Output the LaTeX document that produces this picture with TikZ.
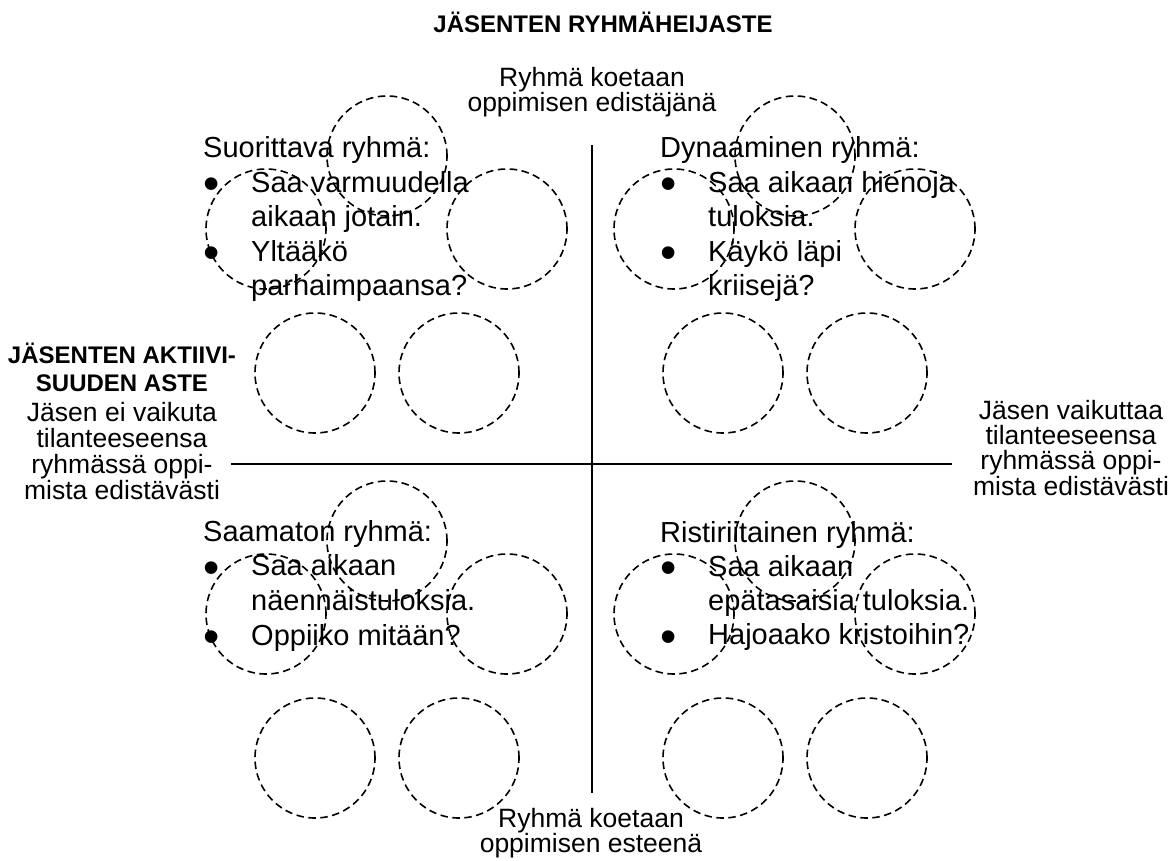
\documentclass[tikz,border=0pt]{standalone}
\usepackage{fontspec}
\setmainfont{Liberation Sans}
% bullet line and continuation line of a quadrant list
\newcommand\qbullet[1]{\makebox[48pt][l]{\hspace{0pt}\raisebox{-7.5pt}{\scalebox{1.6}{\textbullet}}}#1}
\newcommand\qcont[1]{\hspace*{48pt}#1}
\tikzset{
  ring/.style={circle, draw, dash pattern=on 7.5pt off 4.5pt, line width=1.6pt, minimum size=120pt, inner sep=0pt},
  axisline/.style={line width=2pt, draw=black},
  quadtext/.style={anchor=base west, inner sep=0pt},
  axistext/.style={anchor=base, inner sep=0pt},
}
\begin{document}
\begin{tikzpicture}[x=1pt,y=-1pt]
\useasboundingbox (0,0) rectangle (1174,861);

% axes
\coordinate (axN) at (592,145);
\coordinate (axS) at (592,793);
\coordinate (axW) at (231,464);
\coordinate (axE) at (952,464);
\draw[axisline] (axN) -- (axS);
\draw[axisline] (axW) -- (axE);

% member groups drawn as dashed rings, five per quadrant
\foreach \dx/\dy/\q in {0/0/tl, 408/0/tr, 0/385/bl, 408/385/br}{
  \node[ring] (\q-top) at (387+\dx,156+\dy) {};
  \node[ring] (\q-left) at (266+\dx,229+\dy) {};
  \node[ring] (\q-right) at (507+\dx,229+\dy) {};
  \node[ring] (\q-low1) at (315+\dx,373+\dy) {};
  \node[ring] (\q-low2) at (459+\dx,373+\dy) {};
}

% headings
\node[axistext] (title) at (603,33) {\fontsize{24}{28}\selectfont\bfseries JÄSENTEN RYHMÄHEIJASTE};
\node[axistext] (north) at (592,87) {\parbox[t]{320pt}{\centering\fontsize{26.5}{25}\selectfont Ryhmä koetaan\\oppimisen edistäjänä}};
\node[axistext] (south) at (591,827) {\parbox[t]{320pt}{\centering\fontsize{26.5}{23.5}\selectfont Ryhmä koetaan\\oppimisen esteenä}};
\node[axistext] (westhead) at (122,363) {\parbox[t]{240pt}{\centering\bfseries\fontsize{24}{28}\selectfont JÄSENTEN AKTIIVI-\\SUUDEN ASTE}};
\node[axistext] (west) at (122,421) {\parbox[t]{240pt}{\centering\fontsize{26.5}{26}\selectfont Jäsen ei vaikuta\\tilanteeseensa\\ryhmässä oppi-\\mista edistävästi}};
\node[axistext] (east) at (1071,419) {\parbox[t]{240pt}{\centering\fontsize{26.5}{25.4}\selectfont Jäsen vaikuttaa\\tilanteeseensa\\ryhmässä oppi-\\mista edistävästi}};

% quadrant descriptions
\node[quadtext] (tltext) at (203,158) {\parbox[t]{400pt}{\fontsize{29}{34.5}\selectfont
  Suorittava ryhmä:\\
  \qbullet{Saa varmuudella}\\
  \qcont{aikaan jotain.}\\
  \qbullet{Yltääkö}\\
  \qcont{parhaimpaansa?}}};
\node[quadtext] (trtext) at (660,158) {\parbox[t]{400pt}{\fontsize{29}{34.5}\selectfont
  Dynaaminen ryhmä:\\
  \qbullet{Saa aikaan hienoja}\\
  \qcont{tuloksia.}\\
  \qbullet{Käykö läpi}\\
  \qcont{kriisejä?}}};
\node[quadtext] (bltext) at (203,541) {\parbox[t]{400pt}{\fontsize{29}{34.7}\selectfont
  Saamaton ryhmä:\\
  \qbullet{Saa aikaan}\\
  \qcont{näennäistuloksia.}\\
  \qbullet{Oppiiko mitään?}}};
\node[quadtext] (brtext) at (660,542) {\parbox[t]{400pt}{\fontsize{29}{34.3}\selectfont
  Ristiriitainen ryhmä:\\
  \qbullet{Saa aikaan}\\
  \qcont{epätasaisia tuloksia.}\\
  \qbullet{Hajoaako kristoihin?}}};
\end{tikzpicture}
\end{document}
